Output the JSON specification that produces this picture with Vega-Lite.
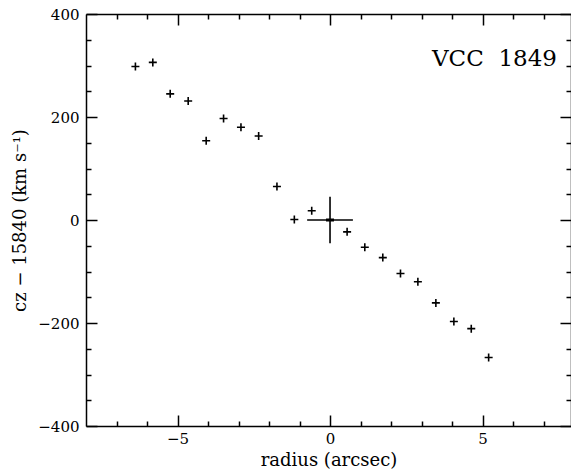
{
  "$schema": "https://vega.github.io/schema/vega-lite/v6.json",
  "width": 485,
  "height": 412,
  "autosize": {"type": "none"},
  "padding": {"left": 86, "top": 14, "right": 0, "bottom": 47},
  "background": "white",
  "config": {
    "view": {"stroke": null},
    "axis": {
      "domainColor": "black", "domainWidth": 1.5,
      "tickColor": "black", "tickWidth": 1.5,
      "grid": false,
      "labelFont": "DejaVu Serif", "labelFontSize": 15, "labelColor": "black",
      "labelOverlap": false, "labelFlush": false,
      "titleFont": "DejaVu Serif", "titleFontSize": 18, "titleFontWeight": "normal", "titleColor": "black"
    }
  },
  "datasets": {
    "pts": [
      {"radius": -6.38, "v": 298}, {"radius": -5.81, "v": 306}, {"radius": -5.24, "v": 245},
      {"radius": -4.65, "v": 231}, {"radius": -4.06, "v": 154}, {"radius": -3.49, "v": 197},
      {"radius": -2.92, "v": 180}, {"radius": -2.34, "v": 163}, {"radius": -1.74, "v": 65},
      {"radius": -1.17, "v": 1}, {"radius": -0.60, "v": 18}, {"radius": 0.56, "v": -23},
      {"radius": 1.14, "v": -53}, {"radius": 1.73, "v": -73}, {"radius": 2.31, "v": -104},
      {"radius": 2.88, "v": -120}, {"radius": 3.47, "v": -161}, {"radius": 4.06, "v": -197},
      {"radius": 4.63, "v": -211}, {"radius": 5.20, "v": -267}
    ],
    "center": [
      {"radius": 0, "v": 0, "rlo": -0.75, "rhi": 0.75, "vlo": -45, "vhi": 45}
    ]
  },
  "resolve": {"axis": {"x": "independent", "y": "independent"}},
  "layer": [
    {
      "data": {"name": "pts"},
      "mark": {"type": "point", "shape": "M-1,0H1M0,-1V1", "size": 64, "filled": false, "stroke": "black", "strokeWidth": 1.6, "opacity": 1},
      "encoding": {
        "x": {
          "field": "radius", "type": "quantitative",
          "scale": {"domain": [-8, 7.9], "nice": false, "zero": false},
          "axis": {
            "orient": "bottom",
            "values": [-7, -6, -5, -4, -3, -2, -1, 0, 1, 2, 3, 4, 5, 6, 7],
            "tickSize": {"condition": {"test": "datum.value % 5 === 0", "value": -11}, "value": -5},
            "labelExpr": "datum.value % 5 === 0 ? datum.label : ''",
            "labelPadding": 16,
            "title": "radius (arcsec)",
            "titleY": 39,
            "titleBaseline": "alphabetic"
          }
        },
        "y": {
          "field": "v", "type": "quantitative",
          "scale": {"domain": [-400, 400], "nice": false, "zero": false},
          "axis": {
            "orient": "left",
            "values": [-400, -350, -300, -250, -200, -150, -100, -50, 0, 50, 100, 150, 200, 250, 300, 350, 400],
            "tickSize": {"condition": {"test": "datum.value % 200 === 0", "value": -11}, "value": -5},
            "labelExpr": "datum.value % 200 === 0 ? datum.label : ''",
            "labelPadding": 18,
            "title": "cz − 15840 (km s⁻¹)",
            "titleX": -66,
            "titleY": 206,
            "titleAngle": -90,
            "titleAlign": "center",
            "titleBaseline": "middle"
          }
        }
      }
    },
    {
      "data": {"name": "center"},
      "mark": {"type": "rule", "stroke": "black", "strokeWidth": 1.6},
      "encoding": {
        "x": {
          "field": "rlo", "type": "quantitative",
          "scale": {"domain": [-8, 7.9], "nice": false, "zero": false},
          "axis": {
            "orient": "top",
            "values": [-7, -6, -5, -4, -3, -2, -1, 0, 1, 2, 3, 4, 5, 6, 7],
            "tickSize": {"condition": {"test": "datum.value % 5 === 0", "value": -11}, "value": -5},
            "labels": false,
            "title": null
          }
        },
        "x2": {"field": "rhi"},
        "y": {
          "field": "v", "type": "quantitative",
          "scale": {"domain": [-400, 400], "nice": false, "zero": false},
          "axis": {
            "orient": "right",
            "values": [-400, -350, -300, -250, -200, -150, -100, -50, 0, 50, 100, 150, 200, 250, 300, 350, 400],
            "tickSize": {"condition": {"test": "datum.value % 200 === 0", "value": -11}, "value": -5},
            "labels": false,
            "title": null
          }
        }
      }
    },
    {
      "data": {"name": "center"},
      "mark": {"type": "rule", "stroke": "black", "strokeWidth": 1.6},
      "encoding": {
        "x": {"field": "radius", "type": "quantitative", "axis": null},
        "y": {"field": "vlo", "type": "quantitative", "axis": null},
        "y2": {"field": "vhi"}
      }
    },
    {
      "data": {"name": "center"},
      "mark": {"type": "point", "shape": "M-1,0H1", "size": 64, "filled": false, "stroke": "black", "strokeWidth": 3, "opacity": 1},
      "encoding": {
        "x": {"field": "radius", "type": "quantitative", "axis": null},
        "y": {"field": "v", "type": "quantitative", "axis": null}
      }
    },
    {
      "data": {"name": "center"},
      "mark": {"type": "text", "text": "VCC\u00a0\u00a01849", "align": "right", "baseline": "alphabetic", "font": "DejaVu Serif", "fontSize": 23, "color": "black"},
      "encoding": {
        "x": {"datum": 7.44, "type": "quantitative", "axis": null},
        "y": {"datum": 300, "type": "quantitative", "axis": null}
      }
    }
  ]
}
